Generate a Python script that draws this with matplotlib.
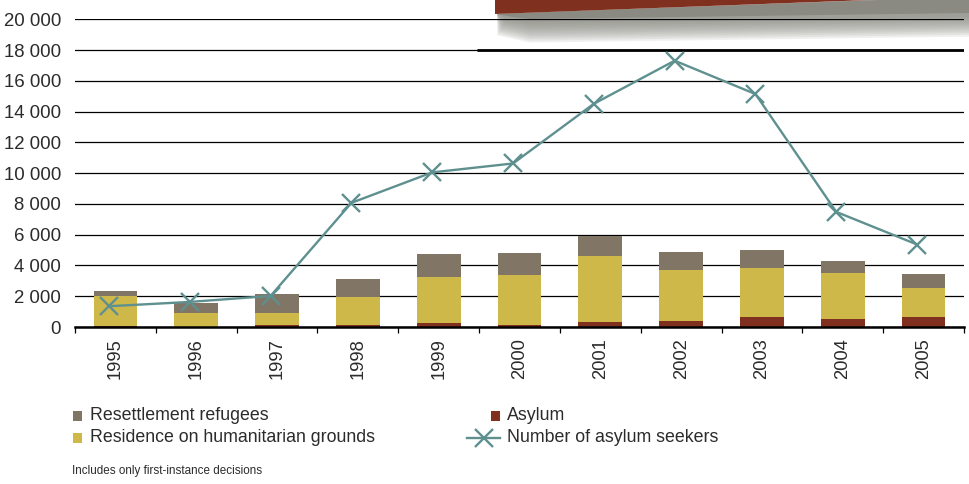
import numpy as np
import matplotlib
matplotlib.use('Agg')
import matplotlib.pyplot as plt
from matplotlib.patches import Polygon, Rectangle
from matplotlib.lines import Line2D
from matplotlib.ticker import FuncFormatter

plt.rcParams['font.family'] = ['Liberation Sans', 'DejaVu Sans']

years = ['1995', '1996', '1997', '1998', '1999', '2000', '2001', '2002', '2003', '2004', '2005']
asylum = [50, 30, 130, 130, 240, 110, 310, 370, 630, 500, 630]
humanitarian = [1950, 860, 760, 1800, 3000, 3250, 4290, 3320, 3190, 2990, 1890]
resettlement = [325, 650, 1240, 1170, 1500, 1430, 1300, 1170, 1170, 780, 910]
asylum_seekers = [1350, 1630, 2020, 8070, 10050, 10630, 14510, 17310, 15140, 7480, 5360]

c_res = '#817566'
c_hum = '#cfb84a'
c_asy = '#80301f'
c_line = '#5f9090'
c_text = '#2b2b2b'

W, H = 970, 484
fig = plt.figure(figsize=(W / 100, H / 100), dpi=100)

def fx(px):
    return px / W

def fy(py):
    return 1 - py / H

def fig_poly(pts, **kw):
    fig.patches.append(Polygon([(fx(a), fy(b)) for a, b in pts], closed=True,
                               transform=fig.transFigure, edgecolor='none', **kw))

# decorative header band with blurred shadow (top right)
for k in range(1, 13):
    d = k * 1.8
    fig_poly([(497, 14), (880, 0), (970, 0), (970, 15 + d), (530, 21 + d), (508 - k * 0.9, 18 + d * 0.8)],
             facecolor='#8a8a82', alpha=0.12, zorder=-2)
fig_poly([(497, 14), (880, 0), (970, 0), (970, 13), (530, 19), (512, 17)], facecolor='#8a8a82', zorder=-1)
fig_poly([(495, 0), (870, 0), (495, 14)], facecolor='#80301f', zorder=0)

ax = fig.add_axes([fx(75), fy(327), fx(964) - fx(75), (327 - 19.3) / H])
ax.patch.set_visible(False)

x = np.arange(len(years))
bw = 0.54
ax.bar(x, asylum, bw, color=c_asy, zorder=3)
ax.bar(x, humanitarian, bw, bottom=asylum, color=c_hum, zorder=3)
ax.bar(x, resettlement, bw, bottom=np.array(asylum) + np.array(humanitarian), color=c_res, zorder=3)
ax.plot(x - 0.08, asylum_seekers, color=c_line, lw=1.7, marker='x', markersize=13, mew=1.7, zorder=4)

ax.set_xlim(-0.5, len(years) - 0.5)
ax.set_ylim(0, 20000)
ax.set_yticks(np.arange(0, 20001, 2000))
ax.yaxis.set_major_formatter(FuncFormatter(lambda v, p: '{:,}'.format(int(v)).replace(',', ' ')))
ax.grid(axis='y', color='black', lw=0.9, zorder=1)
ax.hlines(18000, 4.475, len(years) - 0.5, color='black', lw=2.0, zorder=2)

for s in ['top', 'right', 'left']:
    ax.spines[s].set_visible(False)
ax.spines['bottom'].set_linewidth(1.8)
ax.spines['bottom'].set_zorder(5)

ax.set_xticks(np.arange(-0.5, len(years), 1.0))
ax.set_xticklabels([])
ax.set_xticks(x, minor=True)
ax.set_xticklabels(years, minor=True, rotation=90, fontsize=13.2, color=c_text)
ax.tick_params(axis='x', which='major', length=4, width=0.9, direction='out', color='black')
ax.tick_params(axis='x', which='minor', length=0, pad=8)
ax.tick_params(axis='y', length=0, pad=10, labelsize=13.4, labelcolor=c_text)

# legend
fs = 12.8
fig.patches.append(Rectangle((fx(73), fy(421)), fx(9), 10 / H, transform=fig.transFigure, facecolor=c_res))
fig.text(fx(90), fy(415), 'Resettlement refugees', fontsize=fs, color=c_text, va='center')
fig.patches.append(Rectangle((fx(73), fy(443)), fx(9), 10 / H, transform=fig.transFigure, facecolor=c_hum))
fig.text(fx(90), fy(437), 'Residence on humanitarian grounds', fontsize=fs, color=c_text, va='center')
fig.patches.append(Rectangle((fx(491), fy(421)), fx(9), 10 / H, transform=fig.transFigure, facecolor=c_asy))
fig.text(fx(507), fy(415), 'Asylum', fontsize=fs, color=c_text, va='center')
fig.lines.append(Line2D([fx(467), fx(500)], [fy(438), fy(438)], transform=fig.transFigure, color=c_line, lw=1.7))
fig.lines.append(Line2D([fx(484)], [fy(438)], transform=fig.transFigure, color=c_line, marker='x',
                        markersize=13, mew=1.7, lw=0))
fig.text(fx(507), fy(437), 'Number of asylum seekers', fontsize=fs, color=c_text, va='center')

fig.text(fx(72), fy(471), 'Includes only first-instance decisions', fontsize=8.4, color=c_text, va='center')

fig.savefig('out.png', dpi=100)
